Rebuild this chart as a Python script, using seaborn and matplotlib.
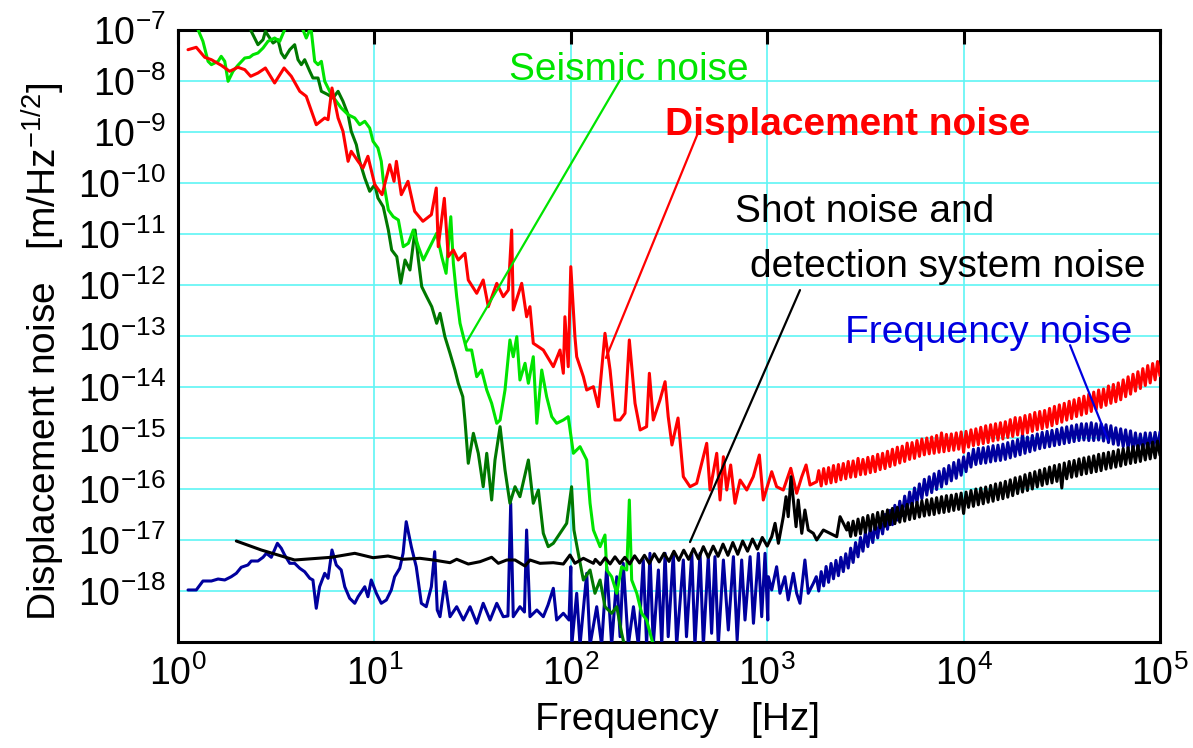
import numpy as np
import matplotlib
matplotlib.use("Agg")
import matplotlib.pyplot as plt
import seaborn as sns

# ---------------- data (log10 of frequency [Hz], log10 of noise [m/Hz^1/2]) ----------------
# frequency grid of the high-frequency part (log10 Hz), shared by the red, black and blue traces
band_logf = [3.2500,3.2625,3.2750,3.2875,3.3000,3.3125,3.3250,3.3375,3.3500,3.3625,3.3750,3.3875,3.4000,3.4125,3.4250,3.4375,3.4500,3.4625,3.4750,3.4875,
             3.5000,3.5125,3.5250,3.5375,3.5500,3.5625,3.5750,3.5875,3.6000,3.6125,3.6250,3.6375,3.6500,3.6625,3.6750,3.6875,3.7000,3.7125,3.7250,3.7375,
             3.7500,3.7625,3.7750,3.7875,3.8000,3.8125,3.8250,3.8375,3.8500,3.8625,3.8750,3.8875,3.9000,3.9125,3.9250,3.9375,3.9500,3.9625,3.9750,3.9875,
             4.0000,4.0125,4.0250,4.0375,4.0500,4.0625,4.0750,4.0875,4.1000,4.1125,4.1250,4.1375,4.1500,4.1625,4.1750,4.1875,4.2000,4.2125,4.2250,4.2375,
             4.2500,4.2625,4.2750,4.2875,4.3000,4.3125,4.3250,4.3375,4.3500,4.3625,4.3750,4.3875,4.4000,4.4125,4.4250,4.4375,4.4500,4.4625,4.4750,4.4875,
             4.5000,4.5125,4.5250,4.5375,4.5500,4.5625,4.5750,4.5875,4.6000,4.6125,4.6250,4.6375,4.6500,4.6625,4.6750,4.6875,4.7000,4.7125,4.7250,4.7375,
             4.7500,4.7625,4.7750,4.7875,4.8000,4.8125,4.8250,4.8375,4.8500,4.8625,4.8750,4.8875,4.9000,4.9125,4.9250,4.9375,4.9500,4.9625,4.9750,4.9875,
             5.0000]

red_logf = [0.051,0.093,0.136,0.170,0.220,0.263,0.305,0.340,0.370,0.407,0.445,0.492,0.540,0.577,0.620,0.653,0.704,0.747,0.764,0.784,
            0.815,0.840,0.866,0.882,0.917,0.942,0.967,1.002,1.039,1.078,1.100,1.112,1.137,1.171,1.205,1.247,1.290,1.315,1.325,1.356,
            1.376,1.402,1.427,1.461,1.478,1.521,1.554,1.580,1.623,1.656,1.682,1.699,1.707,1.750,1.775,1.792,1.809,1.860,1.911,1.945,
            1.962,1.970,1.987,2.000,2.021,2.030,2.064,2.081,2.115,2.140,2.174,2.200,2.225,2.251,2.276,2.298,2.327,2.353,2.386,2.400,
            2.420,2.454,2.480,2.496,2.515,2.546,2.573,2.607,2.641,2.692,2.709,2.743,2.760,2.777,2.794,2.814,2.836,2.862,2.896,2.929,
            2.960,2.980,3.023,3.048,3.082,3.120,3.150,3.176,3.198,3.218,3.252] + band_logf[1:]
red_logv = [-7.386,-7.339,-7.535,-7.582,-7.692,-7.810,-7.731,-7.778,-7.908,-7.843,-7.745,-8.039,-7.745,-7.908,-8.202,-8.300,-8.857,-8.725,-8.759,-8.137,
            -8.725,-8.986,-9.575,-9.378,-9.575,-9.706,-9.476,-10.033,-10.229,-9.641,-9.967,-9.575,-10.229,-9.967,-10.555,-10.751,-10.622,-10.098,-11.249,-10.300,
            -11.445,-11.314,-11.510,-11.378,-11.902,-12.163,-11.902,-12.425,-11.967,-12.229,-12.098,-10.922,-12.490,-11.967,-12.622,-12.425,-13.143,-13.275,-13.602,-13.275,
            -13.731,-12.622,-13.602,-11.641,-13.014,-13.406,-13.798,-14.059,-13.994,-14.386,-12.947,-13.667,-14.647,-14.647,-14.516,-13.078,-14.320,-14.843,-14.778,-13.731,
            -14.647,-14.255,-13.896,-14.582,-15.137,-14.608,-15.759,-15.955,-15.888,-15.104,-16.020,-15.300,-16.216,-15.367,-16.020,-15.529,-16.280,-15.824,-16.020,-15.759,
            -15.333,-16.216,-15.661,-15.955,-16.020,-15.594,-16.084,-15.759,-15.529,-15.922,-15.857,
            -15.64,-15.94,-15.60,-15.90,-15.58,-15.88,-15.54,-15.86,-15.52,-15.82,-15.50,-15.80,-15.46,-15.77,-15.45,-15.76,-15.40,-15.72,-15.42,-15.71,
            -15.38,-15.68,-15.36,-15.66,-15.32,-15.62,-15.30,-15.60,-15.26,-15.56,-15.22,-15.53,-15.18,-15.49,-15.16,-15.46,-15.10,-15.42,-15.09,-15.40,
            -15.05,-15.36,-15.02,-15.33,-15.00,-15.31,-14.98,-15.30,-14.95,-15.28,-14.90,-15.27,-14.93,-15.25,-14.92,-15.24,-14.90,-15.22,-14.88,-15.28,
            -14.87,-15.18,-14.84,-15.15,-14.82,-15.13,-14.79,-15.11,-14.76,-15.09,-14.74,-15.06,-14.72,-15.04,-14.70,-15.02,-14.68,-14.99,-14.64,-14.97,
            -14.60,-14.94,-14.60,-14.92,-14.56,-14.90,-14.54,-14.87,-14.50,-14.84,-14.48,-14.82,-14.46,-14.79,-14.42,-14.76,-14.38,-14.72,-14.35,-14.69,
            -14.32,-14.65,-14.28,-14.62,-14.25,-14.58,-14.22,-14.55,-14.18,-14.52,-14.14,-14.48,-14.10,-14.44,-14.06,-14.40,-14.04,-14.36,-13.98,-14.32,
            -13.95,-14.29,-13.92,-14.25,-13.86,-14.19,-13.80,-14.14,-13.75,-14.08,-13.70,-14.03,-13.64,-13.97,-13.58,-13.92,-13.54,-13.86,-13.50,-13.78]

seismic_logf = [0.087,0.102,0.127,0.153,0.170,0.204,0.220,0.238,0.255,0.280,0.305,0.340,0.365,0.382,0.407,0.433,0.458,0.492,0.518,0.543,
                0.570,0.621,0.636,0.653,0.671,0.679,0.696,0.713,0.730,0.747,0.781,0.806,0.831,0.866,0.900,0.925,0.951,0.976,0.993,1.018,
                1.035,1.045,1.071,1.096,1.122,1.147,1.173,1.198,1.224,1.249,1.283,1.317,1.343,1.365,1.376,1.389,1.402,1.419,1.436,1.453,
                1.470,1.495,1.521,1.546,1.572,1.597,1.623,1.640,1.665,1.690,1.707,1.725,1.741,1.767,1.784,1.809,1.827,1.852,1.877,1.903,
                1.928,1.962,1.987,2.013,2.047,2.081,2.098,2.115,2.149,2.174,2.183,2.208,2.234,2.259,2.285,2.298,2.310,2.336,2.361,2.386,2.420]
seismic_logv = [-6.765,-6.994,-7.222,-7.614,-7.680,-7.614,-7.516,-7.614,-8.006,-7.810,-7.692,-7.549,-7.535,-7.484,-7.451,-7.353,-7.222,-7.157,-7.222,-6.994,
                -6.706,-6.706,-6.994,-7.157,-6.994,-7.025,-7.614,-7.680,-7.614,-8.006,-8.269,-8.398,-8.529,-8.661,-8.725,-8.857,-8.790,-8.922,-9.182,-9.314,
                -9.575,-9.941,-10.529,-10.661,-10.725,-11.249,-11.182,-10.922,-11.249,-11.510,-11.249,-10.986,-11.445,-11.771,-11.249,-10.661,-11.575,-12.229,-12.751,-13.014,
                -13.275,-13.275,-13.798,-13.667,-14.059,-14.320,-14.712,-14.647,-14.059,-13.078,-13.406,-13.014,-13.863,-13.535,-13.927,-13.406,-14.712,-13.667,-14.190,-14.582,
                -14.712,-14.647,-14.582,-15.300,-15.170,-15.431,-16.280,-16.804,-17.131,-16.902,-17.588,-17.720,-18.045,-17.524,-17.588,-16.216,-17.784,-18.045,-18.437,-18.569,-19.06]

seismic2_logf = [0.367,0.373,0.407,0.433,0.445,0.467,0.484,0.509,0.526,0.543,0.569,0.594,0.611,0.628,0.645,0.671,0.687,0.713,0.730,0.764,
                 0.789,0.815,0.840,0.866,0.882,0.908,0.925,0.951,0.976,1.002,1.018,1.045,1.071,1.088,1.114,1.134,1.156,1.181,1.207,1.224,
                 1.241,1.266,1.292,1.317,1.334,1.359,1.385,1.410,1.427,1.450,1.461,1.478,1.504,1.529,1.554,1.572,1.597,1.614,1.640,1.665,
                 1.690,1.716,1.741,1.784,1.809,1.835,1.860,1.885,1.911,1.945,1.979,2.004,2.016,2.038,2.064,2.098,2.123,2.149,2.174,2.208,
                 2.234,2.259,2.276]
seismic2_logv = [-6.804,-7.025,-7.288,-7.190,-7.025,-7.157,-7.255,-7.190,-7.451,-7.549,-7.386,-7.288,-7.582,-7.680,-7.582,-7.810,-7.941,-7.941,-8.202,-8.269,
                 -8.333,-8.202,-8.398,-8.661,-8.986,-9.249,-9.575,-9.902,-10.163,-10.033,-10.294,-10.465,-10.922,-11.314,-11.445,-11.967,-11.510,-11.706,-10.922,-11.510,
                 -12.033,-12.229,-12.425,-12.751,-12.555,-13.014,-13.339,-13.667,-13.927,-14.190,-14.647,-15.496,-14.908,-15.300,-15.955,-15.300,-16.216,-15.431,-14.778,-15.627,
                 -16.280,-15.955,-16.151,-15.431,-16.280,-16.020,-16.869,-17.131,-17.065,-16.869,-16.673,-15.955,-16.804,-17.261,-17.784,-17.588,-18.045,-17.784,-18.308,-18.437,
                 -18.308,-18.829,-19.118]

freq_logf = [0.051,0.093,0.127,0.170,0.204,0.238,0.271,0.297,0.322,0.356,0.373,0.407,0.433,0.450,0.475,0.506,0.526,0.543,0.569,0.594,
             0.620,0.645,0.671,0.687,0.704,0.721,0.747,0.764,0.784,0.806,0.831,0.849,0.874,0.900,0.917,0.951,0.967,0.984,1.010,1.035,
             1.061,1.086,1.103,1.129,1.146,1.162,1.188,1.213,1.239,1.264,1.290,1.307,1.320,1.334,1.359,1.385,1.419,1.453,1.487,1.521,
             1.554,1.589,1.623,1.656,1.680,1.694,1.707,1.741,1.764,1.775,1.792,1.827,1.860,1.884,1.911,1.928,1.962,1.991,2.000,2.005,
             2.030,2.047,2.081,2.098,2.132,2.157,2.183,2.208,2.234,2.251,2.267,2.293,2.319,2.344,2.369,2.386,2.403,2.420,2.446,2.463,
             2.480,2.496,2.522,2.539,2.573,2.589,2.616,2.632,2.658,2.675,2.700,2.717,2.734,2.751,2.777,2.802,2.828,2.847,2.870,2.887,
             2.913,2.930,2.955,2.972,2.989,3.003,
             3.006,3.023,3.048,3.065,3.090,3.107,3.133,3.150,3.167,3.192,3.209,3.235] + band_logf
freq_logv = [-17.980,-17.980,-17.804,-17.804,-17.765,-17.784,-17.720,-17.653,-17.535,-17.490,-17.412,-17.412,-17.339,-17.261,-17.339,-17.065,-17.163,-17.294,-17.457,-17.457,
             -17.555,-17.622,-17.751,-17.784,-18.339,-17.916,-17.653,-17.751,-17.196,-17.490,-17.588,-17.916,-18.143,-18.241,-18.112,-17.916,-18.112,-17.784,-18.045,-18.241,
             -18.176,-17.980,-17.720,-17.555,-17.261,-16.641,-17.131,-17.524,-18.241,-18.308,-17.916,-17.229,-18.373,-18.504,-17.818,-18.504,-18.308,-18.569,-18.308,-18.633,
             -18.241,-18.569,-18.241,-18.504,-18.490,-16.280,-18.504,-18.308,-18.412,-16.804,-18.504,-18.373,-18.504,-18.275,-17.947,-18.569,-18.437,-18.569,-17.524,-19.06,
             -18.045,-19.06,-17.653,-19.06,-18.308,-19.06,-17.524,-19.06,-17.720,-18.896,-17.457,-19.06,-18.308,-19.06,-17.392,-19.06,-17.261,-19.06,-17.588,-19.06,
             -17.261,-18.896,-17.261,-19.06,-17.392,-18.896,-17.261,-19.06,-17.261,-19.06,-17.327,-18.829,-17.327,-19.06,-17.392,-18.765,-17.327,-18.96,-17.392,-18.569,
             -17.327,-18.633,-17.261,-18.504,-17.261,-18.569,
             -17.720,-17.980,-17.524,-18.045,-17.720,-18.176,-17.653,-18.045,-18.241,-17.392,-18.045,-17.849,
             -17.72,-18.00,-17.62,-17.90,-17.52,-17.83,-17.46,-17.76,-17.40,-17.70,-17.34,-17.62,-17.27,-17.55,-17.16,-17.44,-17.05,-17.33,-16.95,-17.22,
             -16.84,-17.13,-16.76,-17.05,-16.67,-16.96,-16.59,-16.88,-16.50,-16.79,-16.42,-16.70,-16.32,-16.61,-16.24,-16.52,-16.14,-16.44,-16.06,-16.36,
             -15.98,-16.27,-15.90,-16.19,-15.81,-16.12,-15.76,-16.07,-15.70,-16.01,-15.65,-15.96,-15.60,-15.90,-15.54,-15.84,-15.48,-15.79,-15.43,-15.73,
             -15.37,-15.66,-15.30,-15.57,-15.22,-15.52,-15.20,-15.50,-15.19,-15.49,-15.17,-15.47,-15.15,-15.45,-15.14,-15.44,-15.12,-15.42,-15.09,-15.39,
             -15.06,-15.36,-15.03,-15.33,-14.92,-15.30,-14.98,-15.27,-14.95,-15.24,-14.92,-15.21,-14.89,-15.19,-14.87,-15.17,-14.85,-15.15,-14.83,-15.13,
             -14.80,-15.11,-14.78,-15.09,-14.76,-15.07,-14.74,-15.05,-14.72,-15.04,-14.72,-15.05,-14.70,-15.05,-14.72,-15.04,-14.72,-15.06,-14.74,-15.09,
             -14.76,-15.12,-14.80,-15.14,-14.82,-15.17,-14.84,-15.20,-14.86,-15.24,-14.90,-15.24,-14.92,-15.24,-14.90,-15.23,-14.90,-15.22,-14.89,-15.21,
             -14.88]

shot_logf = [0.297,0.424,0.594,0.781,0.900,0.993,1.069,1.146,1.232,1.300,1.385,1.419,1.478,1.538,1.597,1.631,1.674,1.716,1.767,1.792,
             1.843,1.911,1.962,1.996,2.021,2.064,2.115,
             2.125,2.150,2.175,2.200,2.225,2.250,2.275,2.300,2.325,2.350,2.375,2.400,2.425,2.450,2.475,2.500,2.525,2.550,2.575,2.600,
             2.625,2.650,2.675,2.700,2.725,2.750,2.775,2.800,2.825,2.850,2.875,2.900,2.925,2.950,2.975,3.000,
             3.023,3.040,3.057,3.082,3.096,3.107,3.121,3.133,3.147,3.158,3.176,3.192,3.209,3.235,3.252,3.286,3.320,3.354,3.371,3.405] + band_logf[13:]
shot_logv = [-17.020,-17.196,-17.392,-17.339,-17.261,-17.347,-17.314,-17.378,-17.359,-17.392,-17.445,-17.378,-17.471,-17.425,-17.339,-17.457,-17.392,-17.392,-17.510,-17.392,
             -17.457,-17.445,-17.471,-17.294,-17.457,-17.359,-17.457,
             -17.38,-17.48,-17.35,-17.47,-17.33,-17.46,-17.34,-17.47,-17.31,-17.45,-17.30,-17.46,-17.27,-17.43,-17.26,-17.42,-17.22,-17.40,-17.20,-17.38,
             -17.17,-17.37,-17.13,-17.34,-17.12,-17.32,-17.08,-17.30,-17.05,-17.28,-17.02,-17.22,-16.98,-17.18,-16.95,-17.12,
             -16.935,-16.673,-17.065,-16.543,-16.151,-16.543,-15.759,-16.216,-16.739,-16.216,-16.869,-16.412,-16.804,-16.869,-17.000,-16.804,-16.869,-16.935,-16.543,-16.804,
             -16.66,-16.93,-16.63,-16.91,-16.59,-16.88,-16.56,-16.85,-16.52,-16.82,-16.50,-16.79,-16.46,-16.76,-16.44,-16.73,-16.41,-16.70,-16.38,-16.68,
             -16.36,-16.65,-16.33,-16.63,-16.30,-16.60,-16.28,-16.58,-16.26,-16.55,-16.23,-16.53,-16.21,-16.51,-16.19,-16.50,-16.17,-16.47,-16.15,-16.46,
             -16.13,-16.44,-16.12,-16.42,-16.10,-16.40,-16.08,-16.48,-16.06,-16.36,-16.03,-16.34,-16.00,-16.31,-15.98,-16.29,-15.96,-16.26,-15.93,-16.24,
             -15.90,-16.21,-15.88,-16.19,-15.85,-16.16,-15.82,-16.13,-15.78,-16.09,-15.76,-16.06,-15.72,-16.03,-15.69,-16.00,-15.66,-15.96,-15.63,-15.93,
             -15.60,-15.90,-15.57,-15.88,-15.54,-15.85,-15.52,-15.98,-15.49,-15.80,-15.46,-15.77,-15.44,-15.75,-15.41,-15.72,-15.39,-15.70,-15.37,-15.68,
             -15.35,-15.66,-15.32,-15.64,-15.30,-15.61,-15.28,-15.59,-15.26,-15.57,-15.23,-15.55,-15.21,-15.52,-15.19,-15.50,-15.17,-15.48,-15.15,-15.46,
             -15.13,-15.43,-15.10,-15.41,-15.08,-15.39,-15.06,-15.34]

# axis ticks (decades)
xtick_exp = [0, 1, 2, 3, 4, 5]
ytick_exp = [-18, -17, -16, -15, -14, -13, -12, -11, -10, -9, -8, -7]

# annotation texts and leader lines: (log10 f, log10 v)
labels = {
    "seismic": ("Seismic noise", (1.685, -7.98)),
    "disp": ("Displacement noise", (2.480, -9.06)),
    "shot1": ("Shot noise and", (2.836, -10.76)),
    "shot2": ("detection system noise", (2.912, -11.84)),
    "freq": ("Frequency noise", (3.396, -13.14)),
}
leaders = {
    "seismic": ((2.251, -7.98), (1.466, -13.14)),
    "disp": ((2.658, -8.92), (2.179, -13.43)),
    "shot": ((3.167, -12.10), (2.607, -17.04)),
    "freq": ((4.542, -13.18), (4.735, -15.04)),
}

# ---------------- style ----------------
sns.set_style("white")
plt.rcParams["font.family"] = ["Liberation Sans", "DejaVu Sans"]
plt.rcParams["mathtext.fontset"] = "custom"
plt.rcParams["mathtext.rm"] = "Liberation Sans"
plt.rcParams["mathtext.it"] = "Liberation Sans:italic"
plt.rcParams["mathtext.bf"] = "Liberation Sans:bold"
plt.rcParams["mathtext.sf"] = "Liberation Sans"
for key in ["text.color", "axes.labelcolor", "xtick.color", "ytick.color",
            "xtick.labelcolor", "ytick.labelcolor", "axes.edgecolor"]:
    plt.rcParams[key] = "black"

C_RED = "#ff0000"
C_GREEN = "#00e400"
C_DGREEN = "#007800"
C_BLUE = "#00009e"
C_BLUE_TXT = "#0000e0"
C_BLACK = "#000000"
C_GRID = "#5ff5f5"

fig = plt.figure(figsize=(11.93, 7.48), dpi=100)
ax = fig.add_axes([178/1193, 1 - 642/748, 982/1193, 612/748])
ax.set_xscale("log")
ax.set_yscale("log")

def p(lf, lv, color, z):
    sns.lineplot(x=10.0 ** np.array(lf), y=10.0 ** np.array(lv), ax=ax, color=color,
                 lw=2.2, estimator=None, sort=False, zorder=z)

p(freq_logf, freq_logv, C_BLUE, 3)
p(seismic2_logf, seismic2_logv, C_DGREEN, 4)
p(seismic_logf, seismic_logv, C_GREEN, 5)
p(red_logf, red_logv, C_RED, 6)
p(shot_logf, shot_logv, C_BLACK, 7)

ax.set_xlim(1, 1e5)
ax.set_ylim(1e-19, 1e-7)
ax.set_xticks([10.0 ** e for e in xtick_exp])
ax.set_yticks([10.0 ** e for e in ytick_exp])
ax.minorticks_off()
ax.grid(True, which="major", color=C_GRID, lw=1.2)
ax.set_axisbelow(True)
ax.tick_params(axis="both", which="major", direction="in", length=10, width=2.2,
               labelsize=27, color="black", labelcolor="black")
ax.tick_params(axis="x", top=True, pad=10)
ax.tick_params(axis="y", right=False, pad=9)
for s in ax.spines.values():
    s.set_linewidth(2.2)
    s.set_color("black")

ax.set_xlabel("Frequency   [Hz]", fontsize=28, color="black")
ax.set_ylabel("Displacement noise   [m/Hz$^{-1/2}$]", fontsize=28, color="black")
ax.xaxis.set_label_coords(0.509, -0.098)
ax.yaxis.set_label_coords(-0.113, 0.474)

colors = {"seismic": C_GREEN, "disp": C_RED, "shot1": C_BLACK, "shot2": C_BLACK, "freq": C_BLUE_TXT}
for k, (txt, (lf, lv)) in labels.items():
    ax.text(10 ** lf, 10 ** lv, txt, color=colors[k], fontsize=28,
            fontweight="bold" if k == "disp" else "normal",
            ha="left", va="baseline", zorder=10)

lcol = {"seismic": C_GREEN, "disp": C_RED, "shot": C_BLACK, "freq": C_BLUE_TXT}
for k, ((f1, v1), (f2, v2)) in leaders.items():
    ax.plot([10 ** f1, 10 ** f2], [10 ** v1, 10 ** v2], color=lcol[k], lw=1.6, zorder=9)

fig.savefig("out.png", dpi=100)
